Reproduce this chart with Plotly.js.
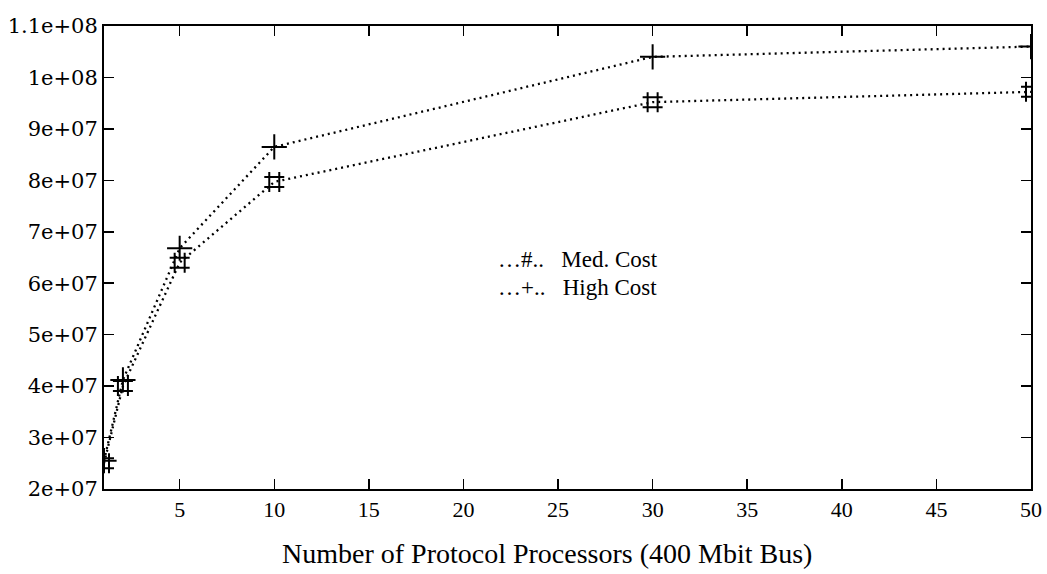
<!DOCTYPE html>
<html>
<head>
<meta charset="utf-8">
<script src="https://cdn.plot.ly/plotly-3.0.1.min.js"></script>
<style>html,body{margin:0;padding:0;background:#fff;}#chart{width:1047px;height:574px;}</style>
</head>
<body>
<div id="chart"></div>
<script>
// Number of protocol processors
const processors = [1, 2, 5, 10, 30, 50];
// Throughput values
const medCost  = [2.5e7, 4.0e7, 6.4e7, 7.97e7, 9.52e7, 9.72e7];
const highCost = [2.55e7, 4.12e7, 6.68e7, 8.65e7, 1.04e8, 1.06e8];
const xTicks = [5, 10, 15, 20, 25, 30, 35, 40, 45, 50];
const yTickVals = [2e7, 3e7, 4e7, 5e7, 6e7, 7e7, 8e7, 9e7, 1e8, 1.1e8];
const yTickText = ["2e+07", "3e+07", "4e+07", "5e+07", "6e+07", "7e+07", "8e+07", "9e+07", "1e+08", "1.1e+08"];
const seriesNames = ["Med. Cost", "High Cost"];
const legendKeys = ["\u2026#..", "\u2026+.."];
const xTitle = "Number of Protocol Processors (400 Mbit Bus)";

const serif = "Liberation Serif, serif";
const lineStyle = {color: "#000", width: 2.3, dash: "2px,4px"};
const traces = [
  {x: processors, y: medCost, name: seriesNames[0], type: "scatter", mode: "lines+markers",
   line: lineStyle,
   marker: {symbol: "hash", size: 20, color: "#000", line: {color: "#000", width: 2}}},
  {x: processors, y: highCost, name: seriesNames[1], type: "scatter", mode: "lines+markers",
   line: lineStyle,
   marker: {symbol: "cross-thin", size: 18, color: "#000", line: {color: "#000", width: 2}}}
];

const legendAnn = seriesNames.map((n, i) => ({
  xref: "paper", yref: "paper", x: 0.424, y: 0.495 - i * 0.059,
  xanchor: "left", yanchor: "middle", showarrow: false, borderpad: 0,
  text: legendKeys[i] + "&nbsp;&nbsp;&nbsp;" + n,
  font: {family: serif, size: 23, color: "#000"}
}));

const layout = {
  width: 1047, height: 574,
  paper_bgcolor: "#fff", plot_bgcolor: "#fff",
  margin: {l: 104, r: 16, t: 26, b: 85},
  showlegend: false,
  xaxis: {
    range: [1, 50], tickvals: xTicks, ticks: "inside", ticklen: 10, tickwidth: 1.5,
    tickcolor: "#000", showline: true, linecolor: "#000", linewidth: 2, mirror: "ticks",
    showgrid: false, zeroline: false,
    tickfont: {family: serif, size: 22, color: "#000"}
  },
  yaxis: {
    range: [2e7, 1.1e8], tickvals: yTickVals, ticktext: yTickText, ticks: "inside", ticklen: 10,
    tickwidth: 1.5, tickcolor: "#000", showline: true, linecolor: "#000", linewidth: 2,
    mirror: "ticks", showgrid: false, zeroline: false,
    tickfont: {family: "DejaVu Serif, serif", size: 21, color: "#000"}
  },
  annotations: legendAnn.concat([{
    xref: "paper", yref: "paper", x: 0.478, y: -0.14, xanchor: "center", yanchor: "middle",
    showarrow: false, text: xTitle, font: {family: serif, size: 28, color: "#000"}
  }])
};

Plotly.newPlot("chart", traces, layout, {displayModeBar: false, staticPlot: true});
</script>
</body>
</html>
